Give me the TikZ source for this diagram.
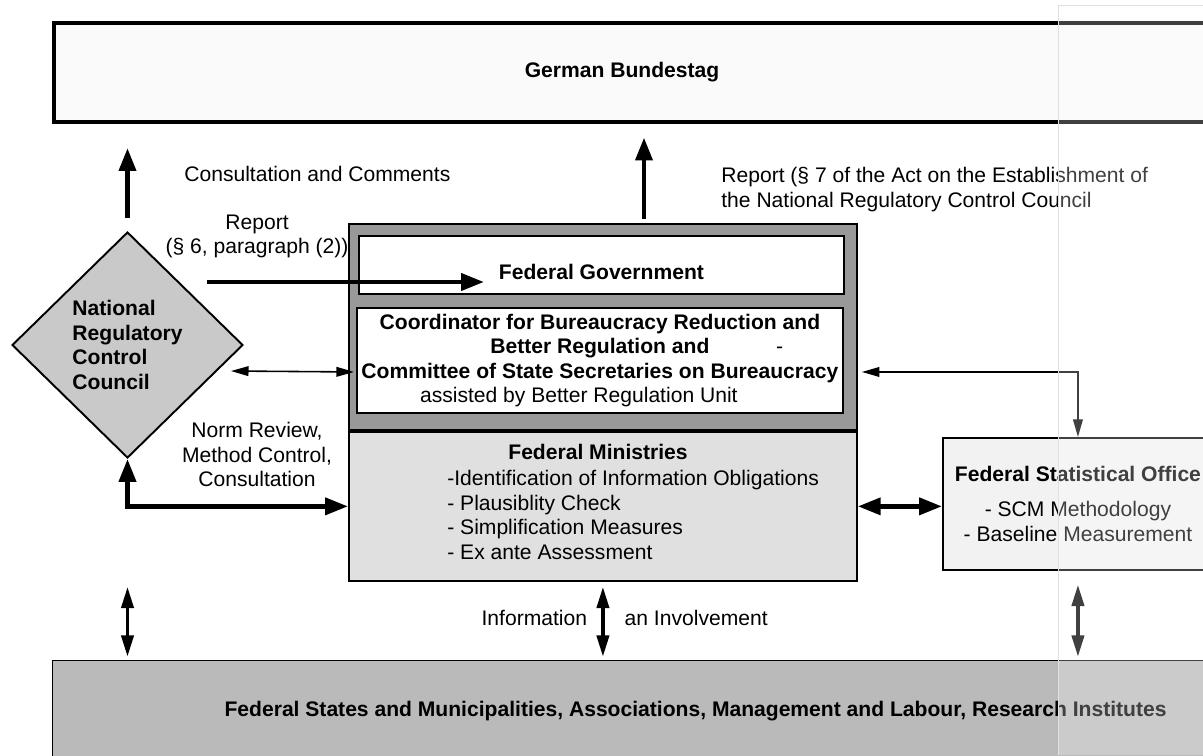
\documentclass[tikz,border=0pt]{standalone}
\usepackage{fontspec}
\setmainfont{Liberation Sans}
\usetikzlibrary{positioning,calc,arrows.meta,shapes.geometric}

\begin{document}
\begin{tikzpicture}[x=0.02cm, y=-0.02cm, font=\fontsize{12}{14}\selectfont,
    box/.style={draw, line width=1.1pt, inner sep=0pt},
    title/.style={font=\fontsize{12}{14}\selectfont\bfseries},
    note/.style={inner sep=0pt},
    fat/.style={line width=2.6pt, >={Triangle[length=13pt,width=9.5pt]}},
    medium/.style={line width=1.8pt, >={Triangle[length=12pt,width=7pt]}},
    slim/.style={line width=0.9pt, >={Triangle[length=10pt,width=5.5pt]}}]
  \useasboundingbox (0,0) rectangle (1203,755);
  \clip (0,0) rectangle (1203,755);
  \fill[white] (0,0) rectangle (1203,755);

  % boxes
  \node[box, line width=2pt, fill=black!2, minimum width=24cm, minimum height=1.98cm,
    anchor=north west] (bund) at (52,21) {};%
  \node[title] (bundname) at (622,72) {German Bundestag};%
  \node[box, fill=black!40, minimum width=10.16cm, minimum height=4.12cm,
    anchor=north west] (govframe) at (348,223) {};%
  \node[box, fill=black!12, minimum width=10.16cm, minimum height=2.98cm,
    anchor=north west] (minbox) at (govframe.south west) {};%
  \node[box, fill=white, minimum width=9.7cm, minimum height=1.16cm,
    anchor=north west] (fedgov) at (358,235) {};%
  \node[title, yshift=-4pt] (fedgovname) at (fedgov) {Federal Government};%
  \node[box, fill=white, minimum width=9.72cm, minimum height=2.1cm,
    anchor=north west, align=center] (coord) at (356,307)
    {\textbf{Coordinator for Bureaucracy Reduction and}\\
     \textbf{Better Regulation and}\rlap{\hspace{38pt}-}\\
     \textbf{Committee of State Secretaries on Bureaucracy}\\
     assisted by Better Regulation Unit\hspace*{24pt}};%
  \node[title] (minname) at (598,452) {Federal Ministries};%
  \node[note, anchor=north west, align=left] (minlist) at (447,470)
    {-Identification of Information Obligations\\- Plausiblity Check\\
     - Simplification Measures\\- Ex ante Assessment};%
  \node[diamond, draw, line width=1.1pt, fill=black!21, minimum width=4.62cm,
    minimum height=4.52cm, inner sep=1pt, align=left, title] (council)
    at (127.5,345) {National\\Regulatory\\Control\\Council};%
  \node[box, fill=black!5, minimum width=5.4cm, minimum height=2.64cm,
    anchor=north west, align=center] (stat) at (942,437)
    {\textbf{Federal Statistical Office}\\[6pt]- SCM Methodology\\- Baseline Measurement};%
  \node[box, line width=0.8pt, fill=black!27, minimum width=25.72cm, minimum height=2cm,
    anchor=north west, title] (states) at (52,660)
    {Federal States and Municipalities, Associations, Management and Labour, Research Institutes};%

  % arrows
  \draw[fat, ->, shorten <=7.5pt, shorten >=14pt] (council.north) -- (council.north |- bund.south);%
  \coordinate (govup) at (644,223);%
  \draw[fat, ->, shorten <=2.5pt, shorten >=8pt] (govup) -- (govup |- bund.south);%
  \coordinate (repfrom) at (207,282);%
  \coordinate (repto) at (484,282);%
  \draw[fat, ->] (repfrom) -- (repto);%
  \draw[slim, <->] ($(council.east)+(-13,26)$) -- ($(coord.west)+(-2,11.5)$);%
  \draw[slim, <->] ($(coord.east)+(18,11.5)$) -| (stat.north);%
  \draw[fat, <->] (council.south) |- (minbox.west);%
  \draw[fat, <->] (minbox.east) -- (minbox.east -| stat.west);%
  \draw[medium, <->, shorten <=3pt, shorten >=2pt] (council.south |- minbox.south)
    -- (council.south |- states.north);%
  \draw[medium, <->, shorten <=3pt, shorten >=2pt] (minbox.south) -- (minbox.south |- states.north);%
  \draw[medium, <->, shorten <=8pt, shorten >=2pt] (stat.south) -- (stat.south |- states.north);%

  % labels
  \node[note, anchor=west] (consult) at (184,174) {Consultation and Comments};%
  \node[note, anchor=west, align=left] (rep7) at (721,189.5)
    {Report (§ 7 of the Act on the Establishment of\\the National Regulatory Control Council};%
  \node[note, align=center] (rep6) at (257,236.5) {Report\\(§ 6, paragraph (2))};%
  \node[note, align=center] (normrev) at (257,454.5) {Norm Review,\\Method Control,\\Consultation};%
  \coordinate (infomid) at (605,618);%
  \node[note, left=10pt of infomid] (info) {Information};%
  \node[note, right=11pt of infomid] (involve) {an Involvement};%

  % faded strip on the right
  \fill[white, opacity=.25] (1058,5) rectangle (1203,755);%
  \draw[black!12, line width=.5pt] (1058,755) -- (1058,5) -- (1203,5);%
\end{tikzpicture}
\end{document}
